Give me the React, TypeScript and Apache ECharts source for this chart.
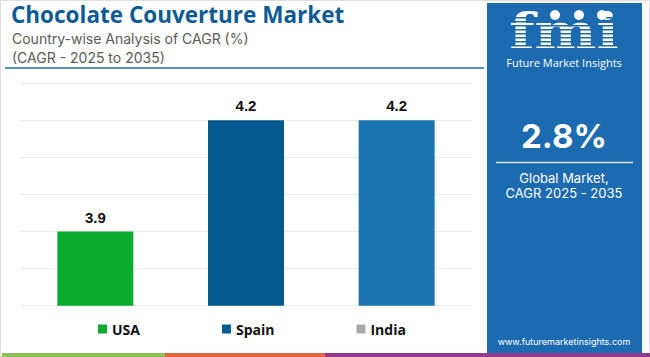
import React, { useEffect, useRef } from "react";
import * as echarts from "echarts";

const categories = ["USA", "Spain", "India"];
const usaValues = [3.9, null, null];
const spainValues = [null, 4.2, null];
const indiaValues = [null, null, 4.2];
const barColors = ["#0aab2e", "#045a8f", "#1b75b0"];
const legendColors = ["#0aab2e", "#045a8f", "#aaaaaa"];
const globalCagr = "2.8%";

export default function App() {
  const ref = useRef<HTMLDivElement>(null);
  useEffect(() => {
    if (!ref.current) return;
    const chart = echarts.init(ref.current, null, { renderer: "svg" });
    const seriesData = [usaValues, spainValues, indiaValues];
    const stripes: any[] = [];
    for (let y = 17; y < 50; y += 4) {
      stripes.push({
        type: "rect",
        shape: { x: 503, y, width: 122, height: 1.4 },
        style: { fill: "#1c6bb0" },
        z: 20,
      });
    }
    chart.setOption({
      animation: false,
      backgroundColor: "#ffffff",
      grid: { left: 20, right: 178, top: 83.3, bottom: 51.3, containLabel: false },
      xAxis: {
        type: "category",
        data: categories,
        axisLine: { show: false },
        axisTick: { show: false },
        axisLabel: { show: false },
      },
      yAxis: {
        type: "value",
        min: 3.7,
        max: 4.3,
        interval: 0.1,
        axisLabel: { show: false },
        axisLine: { show: false },
        axisTick: { show: false },
        splitLine: { lineStyle: { color: "#ececec", width: 1 } },
      },
      legend: {
        top: 322,
        left: 98,
        padding: 0,
        itemWidth: 9,
        itemHeight: 9,
        itemGap: 82,
        icon: "rect",
        textStyle: { fontFamily: "Open Sans, sans-serif", fontWeight: "bold", fontSize: 14, color: "#111" },
        data: categories.map((c, i) => ({ name: c, itemStyle: { color: legendColors[i] } })),
      },
      series: categories.map((c, i) => ({
        name: c,
        type: "bar",
        data: seriesData[i],
        barWidth: 76,
        barGap: "-100%",
        itemStyle: { color: barColors[i] },
        label: {
          show: true,
          position: "top",
          distance: 7,
          fontFamily: "Liberation Sans, Arial, sans-serif",
          fontWeight: "bold",
          fontSize: 15,
          color: "#111",
        },
      })),
      graphic: [
        { type: "rect", shape: { x: 0.5, y: 0.5, width: 649, height: 356 }, style: { fill: "none", stroke: "#dddddd", lineWidth: 1 }, z: 1 },
        {
          type: "text",
          left: 11,
          top: 3,
          style: { text: "Chocolate Couverture Market", fontFamily: "Open Sans, sans-serif", fontWeight: "bold", fontSize: 22.5, fill: "#0e5a96" },
        },
        {
          type: "text",
          left: 12,
          top: 29,
          style: { text: "Country-wise Analysis of CAGR (%)\n(CAGR - 2025 to 2035)", fontFamily: "Inter, sans-serif", fontSize: 14, lineHeight: 19, fill: "#5a5a5a" },
        },
        { type: "line", shape: { x1: 5, y1: 68, x2: 484, y2: 68 }, style: { stroke: "#1d6fa8", lineWidth: 1.5 } },
        { type: "rect", shape: { x: 487, y: 3, width: 155, height: 351 }, style: { fill: "#1c6bb0" }, z: 10 },
        {
          type: "text",
          x: 564,
          y: 31,
          scaleX: 1.22,
          style: { text: "fmi", fontFamily: "DejaVu Serif", fontWeight: "bold", fontSize: 48, fill: "#ffffff", align: "center", verticalAlign: "middle" },
          z: 15,
        },
        ...stripes,
        { type: "circle", shape: { cx: 555, cy: 15, r: 5 }, style: { fill: "#ffffff" }, z: 21 },
        { type: "circle", shape: { cx: 579, cy: 15, r: 5 }, style: { fill: "#ffffff" }, z: 21 },
        { type: "circle", shape: { cx: 602, cy: 15, r: 5 }, style: { fill: "#ffffff" }, z: 21 },
        {
          type: "text",
          x: 564,
          y: 62,
          style: { text: "Future Market Insights", fontFamily: "Open Sans, sans-serif", fontSize: 11, lineHeight: 12, fill: "#ffffff", align: "center", verticalAlign: "middle" },
          z: 15,
        },
        {
          type: "text",
          x: 564,
          y: 136,
          style: { text: globalCagr, fontFamily: "Inter, sans-serif", fontWeight: "bold", fontSize: 33, fill: "#ffffff", align: "center", verticalAlign: "middle" },
          z: 15,
        },
        { type: "line", shape: { x1: 496, y1: 162.5, x2: 633, y2: 162.5 }, style: { stroke: "#d8e6f3", lineWidth: 1.5 }, z: 15 },
        {
          type: "text",
          x: 564,
          y: 185,
          style: { text: "Global Market,\nCAGR 2025 - 2035", fontFamily: "Inter, sans-serif", fontSize: 13, lineHeight: 15, fill: "#ffffff", align: "center", verticalAlign: "middle" },
          z: 15,
        },
        {
          type: "text",
          x: 564,
          y: 341,
          style: { text: "www.futuremarketinsights.com", fontFamily: "Inter, sans-serif", fontSize: 9, fill: "#ffffff", align: "center", verticalAlign: "middle" },
          z: 15,
        },
        { type: "rect", shape: { x: 2, y: 353, width: 163, height: 4 }, style: { fill: "#8dc05a" }, z: 12 },
        { type: "rect", shape: { x: 165, y: 353, width: 160, height: 4 }, style: { fill: "#e0673f" }, z: 12 },
        { type: "rect", shape: { x: 325, y: 353, width: 325, height: 4 }, style: { fill: "#8e3a8f" }, z: 12 },
      ],
    });
    return () => chart.dispose();
  }, []);
  return <div ref={ref} style={{ position: "fixed", left: 0, top: 0, width: 650, height: 357 }} />;
}
